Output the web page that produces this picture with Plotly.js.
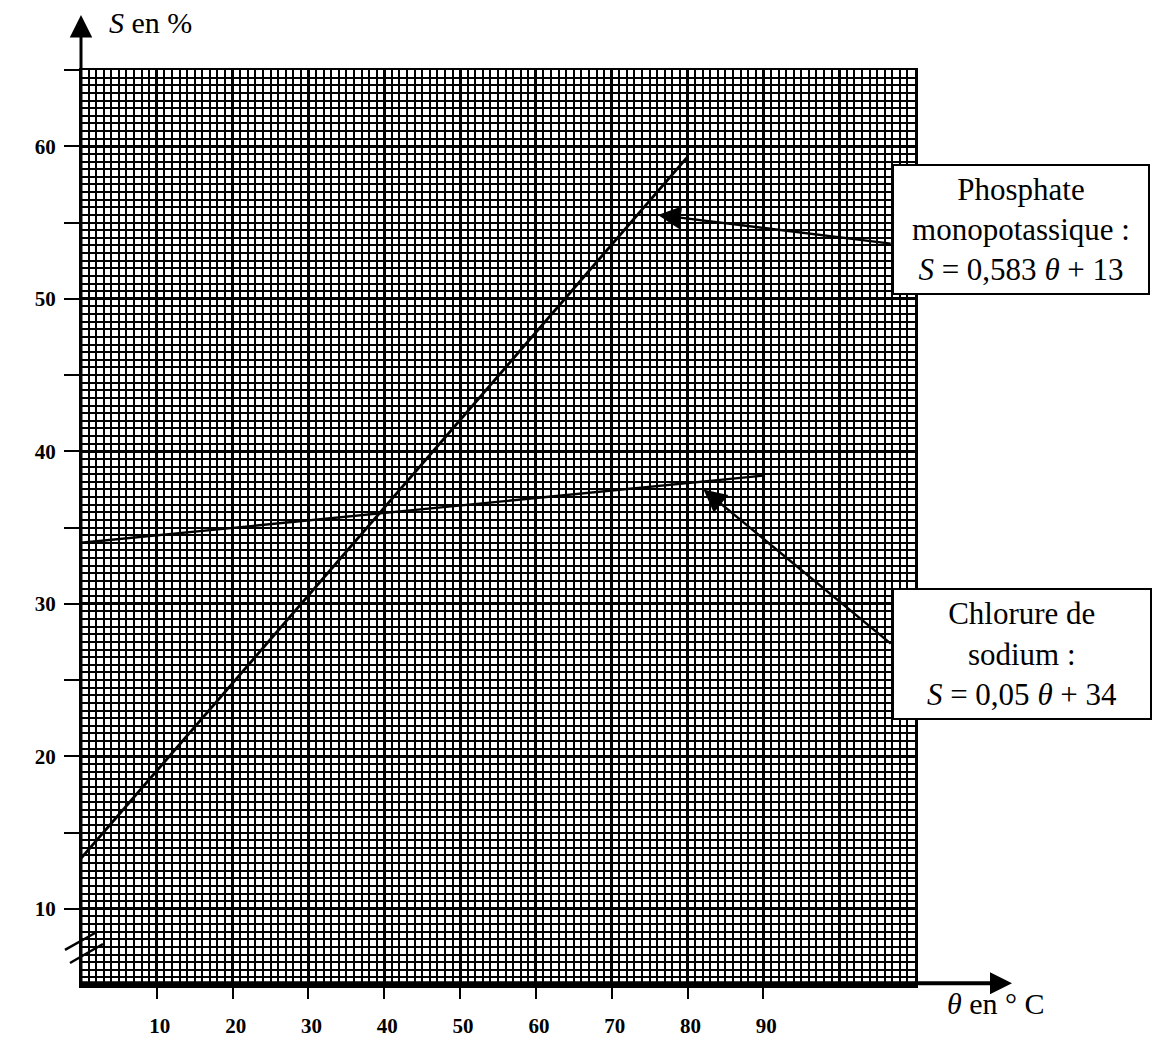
<!DOCTYPE html>
<html>
<head>
<meta charset="utf-8">
<script src="https://cdn.plot.ly/plotly-3.0.1.min.js"></script>
<style>html,body{margin:0;padding:0;background:#fff;}#chart{width:1153px;height:1038px;}</style>
</head>
<body>
<div id="chart"></div>
<script>
// Data
var thetaPhosphate = [0, 80];
var sPhosphate = [13.3, 59.3];
var thetaChlorure = [0, 90];
var sChlorure = [34.0, 38.4];

var xTickVals = [10, 20, 30, 40, 50, 60, 70, 80, 90];
var xTickText = ['10', '20', '30', '40', '50', '60', '70', '80', '90'];
var yTickVals = [10, 15, 20, 25, 30, 35, 40, 45, 50, 55, 60, 65];
var yTickText = ['10', '', '20', '', '30', '', '40', '', '50', '', '60', ''];

var labelPhosphate = 'Phosphate<br>monopotassique :<br><i>S</i> = 0,583 <i>θ</i> + 13';
var labelChlorure = 'Chlorure de<br>sodium :<br><i>S</i> = 0,05 <i>θ</i> + 34';
var arrowPhosphate = {tip: [76.1, 55.5], tail: [107, 53.6]};
var arrowChlorure = {tip: [82.1, 37.5], tail: [107, 27.3]};

var SERIF = '"Liberation Serif", "Times New Roman", Times, serif';
var X_RANGE = [0, 110];
var Y_RANGE = [5, 65];

var traces = [
  {x: thetaPhosphate, y: sPhosphate, mode: 'lines', line: {color: '#000', width: 2.8}, hoverinfo: 'skip', showlegend: false},
  {x: thetaChlorure, y: sChlorure, mode: 'lines', line: {color: '#000', width: 2.3}, hoverinfo: 'skip', showlegend: false},
  {x: [], y: [], xaxis: 'x2', yaxis: 'y2', mode: 'lines', hoverinfo: 'skip', showlegend: false}
];

var layout = {
  width: 1153, height: 1038,
  margin: {l: 81, r: 238, t: 70, b: 53},
  paper_bgcolor: '#fff', plot_bgcolor: '#fff',
  showlegend: false,
  font: {family: SERIF, color: '#000'},
  xaxis: {
    range: X_RANGE, tick0: 0, dtick: 10, showgrid: true, gridcolor: '#000', gridwidth: 3,
    minor: {dtick: 1, showgrid: true, gridcolor: '#000', gridwidth: 2},
    showticklabels: false, ticks: '', zeroline: false,
    showline: true, mirror: true, linecolor: '#000', linewidth: 2.5, fixedrange: true
  },
  yaxis: {
    range: Y_RANGE, tick0: 0, dtick: 10, showgrid: true, gridcolor: '#000', gridwidth: 3,
    minor: {dtick: 0.5, showgrid: true, gridcolor: '#000', gridwidth: 2},
    showticklabels: false, ticks: '', zeroline: false,
    showline: true, mirror: true, linecolor: '#000', linewidth: 2.5, fixedrange: true
  },
  xaxis2: {
    overlaying: 'x', anchor: 'y2', side: 'bottom', range: X_RANGE,
    tickmode: 'array', tickvals: xTickVals, ticktext: xTickText,
    ticks: 'outside', ticklen: 13, tickwidth: 2, tickcolor: '#000',
    ticklabelstandoff: 9, ticklabelshift: 3,
    tickfont: {family: SERIF, size: 21, weight: 'bold', color: '#000'},
    showgrid: false, zeroline: false, showline: false, fixedrange: true
  },
  yaxis2: {
    overlaying: 'y', anchor: 'x2', side: 'left', range: Y_RANGE,
    tickmode: 'array', tickvals: yTickVals, ticktext: yTickText,
    ticks: 'outside', ticklen: 16, tickwidth: 2, tickcolor: '#000',
    ticklabelstandoff: 4,
    tickfont: {family: SERIF, size: 21, weight: 'bold', color: '#000'},
    showgrid: false, zeroline: false, showline: false, fixedrange: true
  },
  shapes: [
    {type: 'line', xref: 'paper', yref: 'paper', x0: -0.0192, y0: 0.0383, x1: 0.0168, y1: 0.0568, line: {color: '#000', width: 2.5}},
    {type: 'line', xref: 'paper', yref: 'paper', x0: -0.0132, y0: 0.0240, x1: 0.0264, y1: 0.0448, line: {color: '#000', width: 2.5}}
  ],
  annotations: [
    // y axis with arrow
    {xref: 'paper', yref: 'paper', x: 0, y: 1.0601, ax: 0, ay: 974, text: '', showarrow: true,
     arrowhead: 2, arrowwidth: 3, arrowsize: 1.5, arrowcolor: '#000'},
    // x axis with arrow
    {xref: 'paper', yref: 'paper', x: 1.1163, y: 0.002, ax: -932, ay: 0, text: '', showarrow: true,
     arrowhead: 2, arrowwidth: 4, arrowsize: 1.1, arrowcolor: '#000'},
    // axis titles
    {xref: 'paper', yref: 'paper', x: 0.0312, y: 1.0514, xanchor: 'left', yanchor: 'middle', showarrow: false,
     text: '<i>S</i> en %', font: {family: SERIF, size: 30, color: '#000'}},
    {xref: 'paper', yref: 'paper', x: 1.036, y: -0.0197, xanchor: 'left', yanchor: 'middle', showarrow: false,
     text: '<i>θ</i> en ° C', font: {family: SERIF, size: 30, color: '#000'}},
    // pointer arrows
    {xref: 'x', yref: 'y', axref: 'x', ayref: 'y', x: arrowPhosphate.tip[0], y: arrowPhosphate.tip[1],
     ax: arrowPhosphate.tail[0], ay: arrowPhosphate.tail[1], text: '', showarrow: true,
     arrowhead: 2, arrowwidth: 2.4, arrowsize: 1.9, arrowcolor: '#000'},
    {xref: 'x', yref: 'y', axref: 'x', ayref: 'y', x: arrowChlorure.tip[0], y: arrowChlorure.tip[1],
     ax: arrowChlorure.tail[0], ay: arrowChlorure.tail[1], text: '', showarrow: true,
     arrowhead: 2, arrowwidth: 2.4, arrowsize: 1.9, arrowcolor: '#000'},
    // label boxes
    {xref: 'paper', yref: 'paper', x: 1.1271, y: 0.8257, xanchor: 'center', yanchor: 'middle', showarrow: false,
     text: labelPhosphate, align: 'center', width: 254, height: 127, bgcolor: '#fff', bordercolor: '#000',
     borderwidth: 2, borderpad: 0, font: {family: SERIF, size: 31, color: '#000'}},
    {xref: 'paper', yref: 'paper', x: 1.1283, y: 0.3618, xanchor: 'center', yanchor: 'middle', showarrow: false,
     text: labelChlorure, align: 'center', width: 256, height: 128, bgcolor: '#fff', bordercolor: '#000',
     borderwidth: 2, borderpad: 0, font: {family: SERIF, size: 31, color: '#000'}}
  ]
};

Plotly.newPlot('chart', traces, layout, {displayModeBar: false, staticPlot: true});
</script>
</body>
</html>
